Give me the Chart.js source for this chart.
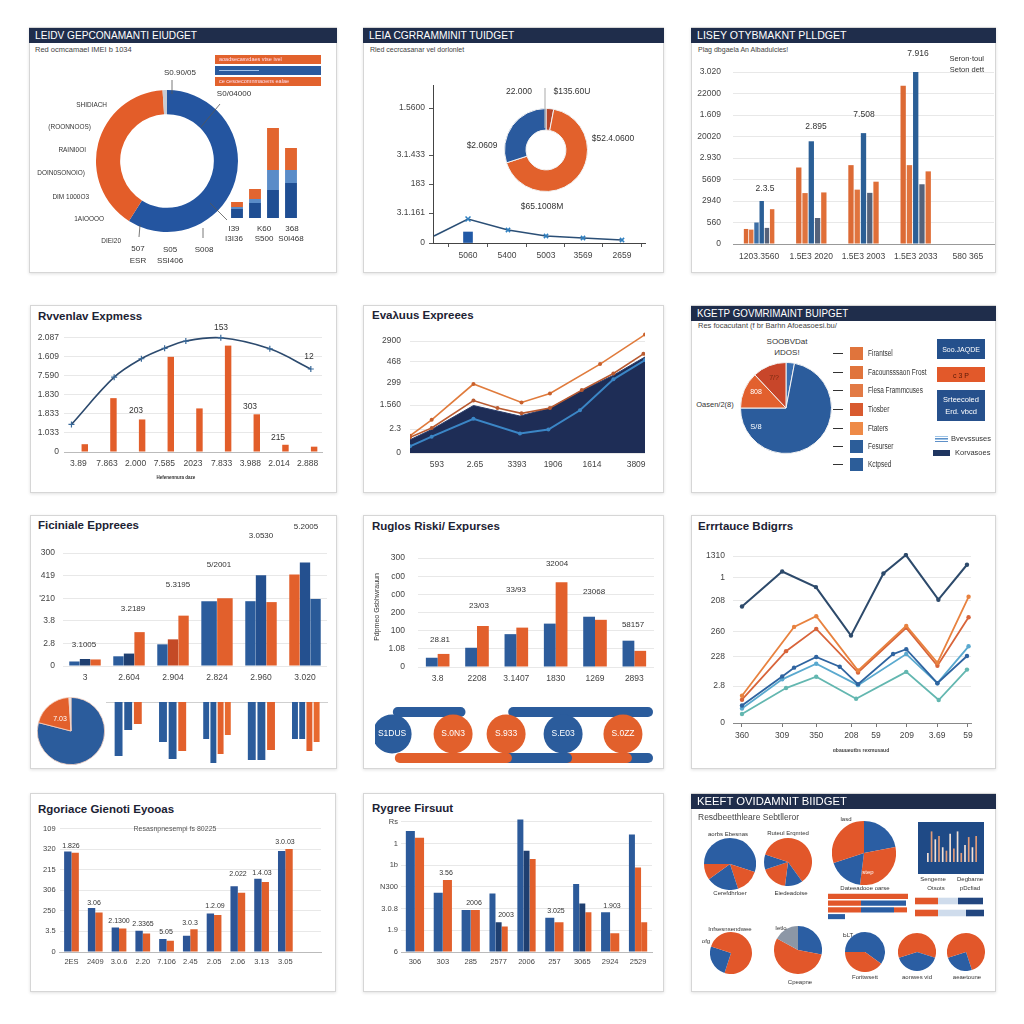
<!DOCTYPE html>
<html><head><meta charset="utf-8"><title>Government budget dashboard</title>
<script src="https://cdn.jsdelivr.net/npm/chart.js@4.4.1/dist/chart.umd.min.js"></script>
<style>
html,body{margin:0;padding:0;}
body{width:1024px;height:1024px;background:#fff;position:relative;overflow:hidden;font-family:"Liberation Sans",Arial,sans-serif;}
.pn{position:absolute;background:#fff;border:1px solid #d6d6d6;box-shadow:0 1px 3px rgba(0,0,0,.12);box-sizing:border-box;}
.tx{position:absolute;white-space:nowrap;line-height:1;}
canvas{position:absolute;}
</style></head>
<body>
<script>
// ================= DATA =================
// Panel 1
const p1Title='LEIDV GEPCONAMANTI EIUDGET';
const p1Sub='Red ocmcamael IMEI b 1034';
const p1DonutLabels=['Federal','State','Other'];
const p1Donut=[59,40,1];
const p1SideLabels=['SHIDIACH','(ROONNOOS)','RAINI0OI','DOIN0SONOIO)','DIM  1000O3','1AIOOOO','DIEI20'];
const p1Legend=['aoadsecasvdaes vtse ivel','','ce cesoecomnmaoens ealae'];
const p1BarCats=['I39','I3I36','K60','368'];
const p1BarNavy=[9,15,28,35];
const p1BarLight=[2,4,20,13];
const p1BarOrange=[5,10,42,22];
// Panel 2
const p2Title='LEIA CGRRAMMINIT TUIDGET';
const p2Sub='Rled cecrcasanar vel dorlonlet';
const p2YTickVals=[0,3.0,5.9,8.8,13.5];
const p2YTicks=['0','3.1.161','183','3.1.433','1.5600'];
const p2XTickVals=[3.5,7.4,11.3,15.0,18.9];
const p2XTicks=['5060','5400','5003','3569','2659'];
const p2LineX=[0.1,3.5,7.5,11.3,15.0,18.9];
const p2LineY=[0.7,2.4,1.3,0.7,0.5,0.3];
const p2BarX=[3.5];
const p2BarY=[1.1];
const p2DonutLabels=['Dark','Orange','Blue'];
const p2Donut=[3,67,30];
// Panel 3
const p3Title='LISEY OTYBMAKNT PLLDGET';
const p3Sub='Plag dbgaela An Albadulcies!';
const p3Cats=['1203.3560','1.5E3 2020','1.5E3 2003','1.5E3 2033','580 365'];
const p3YTicks=['0','560','2940','5609','2.930','20020','1.609','22000','3.020'];
const p3O1=[0.70,3.56,3.67,7.37,null];
const p3O2=[0.67,2.37,2.53,3.67,null];
const p3B1=[1.0,null,null,null,null];
const p3B2=[2.0,4.78,5.16,8.02,null];
const p3G=[0.75,1.21,2.38,2.78,null];
const p3O3=[1.62,2.40,2.90,3.38,null];
// Panel 4
const p4Title='Rvvenlav Expmess';
const p4Cats=['3.89','7.863','2.000','7.585','2023','7.833','3.988','2.014','2.888'];
const p4YTicks=['0','1.033','1.833','1.830','7.590','1.609','2.087'];
const p4Bars=[0.41,2.83,1.71,5.0,2.29,5.59,1.98,0.38,0.28];
const p4LineX=[-0.24,1.25,2.2,3.01,3.75,4.97,6.68,8.11];
const p4LineY=[1.45,3.93,4.90,5.45,5.83,6.0,5.42,4.36];
// Panel 5
const p5Title='Evaλuus Expreees';
const p5YTickVals=[0,1.07,2.14,3.16,4.10,5.0];
const p5YTicks=['0','2.3','1.560','299','468','2900'];
const p5XTickVals=[1.03,2.49,4.10,5.48,6.97,8.66];
const p5XTicks=['593','2.65','3393','1906','1614','3809'];
const p5AreaX=[0,0.83,2.43,4.21,5.36,6.58,7.79,9.0];
const p5AreaY=[0.59,1.05,2.12,1.65,2.01,2.79,3.47,4.29];
const p5BlueX=[0,0.83,2.43,4.21,5.30,6.51,7.79,9.0];
const p5BlueY=[0.30,0.73,1.53,0.87,1.05,1.91,3.29,4.15];
const p5LowX=[0,0.83,2.43,3.35,4.27,5.36,6.58,7.79,8.94];
const p5LowY=[0.70,1.12,2.34,2.01,1.77,2.01,2.81,3.55,4.43];
const p5UpX=[0,0.83,2.43,4.27,5.36,7.28,9.0];
const p5UpY=[0.77,1.48,3.08,2.26,2.66,3.97,5.29];
// Panel 6
const p6Title='KGETP GOVMRIMAINT BUIPGET';
const p6Sub='Res focacutant (f br Barhn Afoeasoesi.bu/';
const p6PieLabels=['Thin','Main','Orange','Red'];
const p6Pie=[3,72,13,12];
const p6Legend=['Firantsel','Facounsssaon Frost','Flesa Frammcuses','Tiosber','Ftaters','Fesurser','Kctpsed'];
// Panel 7
const p7Title='Ficiniale Eppreees';
const p7Cats=['3','2.604','2.904','2.824','2.960','3.020'];
const p7YTicks=['0','2.8','3.8',"'210",'419','300'];
const p7A=[0.20,0.43,0.96,2.87,2.87,4.05];
const p7B=[0.31,0.55,1.18,null,4.02,4.58];
const p7C=[0.29,1.50,2.23,3.00,2.83,2.97];
const p7Values=['3.1005','3.2189','5.3195','5/2001','3.0530','5.2005'];
const p7PieLabels=['Main','Slice','Line'];
const p7Pie=[79,20,1];
const p7DownCats=['a','b','c','d','e'];
const p7Down1=[5.4,4.0,3.7,5.8,3.7];
const p7Down2=[2.8,5.7,6.1,5.8,3.7];
const p7Down3=[2.2,4.9,5.2,4.8,4.9];
const p7Down4=[null,null,3.3,null,4.0];
// Panel 8
const p8Title='Ruglos Riski/ Expurses';
const p8Cats=['3.8','2208','3.1407','1830','1269','2893'];
const p8YTicks=['0','1.08','100','200','c00','c00','300'];
const p8Blue=[0.51,1.06,1.81,2.39,2.77,1.45];
const p8Orange=[0.72,2.26,2.17,4.67,2.60,0.89];
const p8Values=['28.81','23/03','33/93','32004','23068','58157'];
const p8ChainX=[0.6,2.74,4.6,6.6,8.7];
const p8ChainLabels=['S1DUS','S.0N3','S.933','S.E03','S.0ZZ'];
const p8BandFrom=[0.8,4.85,0.87,4.63,6.74,8.87];
const p8BandTo=[3.0,9.58,4.63,6.74,8.84,9.58];
const p8BandRow=[5.8,5.8,1.2,1.2,1.2,1.2];
// Panel 9
const p9Title='Errrtauce Bdigrrs';
const p9XTickVals=[0,1.25,2.31,3.40,4.17,5.13,6.07,7.03];
const p9XTicks=['360','309','350','208','59','209','3.69','59'];
const p9YTickVals=[0,3.8,6.8,9.4,12.6,15.0,17.2];
const p9YTicks=['0','2.8','228','260','208','1','1310'];
const p9NavyX=[0,1.25,2.30,3.39,4.40,5.10,6.11,7.0];
const p9NavyY=[12.0,15.6,14.0,9.0,15.4,17.3,12.7,16.3];
const p9OrAX=[0,1.62,2.31,3.61,5.11,6.08,7.05];
const p9OrAY=[2.8,9.9,11.0,5.4,10.0,6.2,13.0];
const p9OrBX=[0,1.37,2.31,3.61,5.11,6.08,7.05];
const p9OrBY=[2.4,7.4,9.7,5.2,9.8,5.9,10.9];
const p9BlCX=[0,1.25,1.62,2.31,3.04,3.61,4.70,5.11,6.08,7.0];
const p9BlCY=[1.8,4.8,5.7,6.8,5.8,4.0,7.1,7.6,4.1,6.9];
const p9BlDX=[0,1.25,2.31,3.61,5.11,6.08,7.05];
const p9BlDY=[1.5,4.5,6.1,3.9,7.1,4.1,7.9];
const p9TealX=[0,1.37,2.31,3.55,5.11,6.12,7.0];
const p9TealY=[0.93,3.6,4.77,2.5,5.27,2.37,5.5];
// Panel 10
const p10Title='Rgoriace Gienoti Eyooas';
const p10Sub='Resasnpnesempi fs 80225';
const p10Cats=['2ES','2409','3.0.6','2.20','7.106','2.45','2.05','2.06','3.13','3.05',''];
const p10YTicks=['0','3.5','250','306','215','320','109'];
const p10Blue=[4.88,2.14,1.19,1.03,0.63,0.79,1.87,3.19,3.56,4.91];
const p10Orange=[4.82,1.92,1.14,0.90,0.55,1.11,1.80,2.88,3.40,5.01];
const p10Values=['1.826','3.06','2.1300','2.3365','5.05','3.0.3','1.2.09','2.022','1.4.03','3.0.03'];
// Panel 11
const p11Title='Rygree Firsuut';
const p11Cats=['306','303','285','2577','2006','257','3065','2924','2529'];
const p11YTicks=['6','1.9','3.0.8','N300','1b','1','Rs'];
const p11A=[5.58,2.73,1.94,2.70,6.11,1.58,3.13,1.83,5.42];
const p11B=[5.27,3.32,1.94,1.37,4.67,1.37,2.24,0.86,3.90];
const p11C=[null,null,null,1.17,4.29,null,1.83,null,1.37];
// Panel 12
const p12Title='KEEFT OVIDAMNIT BIIDGET';
const p12Sub='Resdbeetthleare Sebtlleror';
const p12A=[30,15,20,10,25];
const p12B=[40,12,18,10,20];
const p12C=[22,30,18,30];
const p12D=[55,25,20];
const p12E=[28,55,17];
const p12F=[35,40,25];
const p12G=[30,40,30];
const p12H=[45,25,30];
const p12Mini=[8,27,20,23,13,10,25,12,27,8,15,22,13,23];
const p12HRows=['r1','r2','r3','r4'];
const p12H1=[80,33,33,17];
const p12H2=[0,45,33,0];
const p12H3=[0,0,13,0];
const p12RRows=['s1','s2'];
const p12R1=[23,23];
const p12R2=[20,28];
const p12R3=[25,18];

// ================= STYLE / HELPERS =================
const O='#e2602c', OD='#c44a26', B='#2b5c9c', BL='#4f82c0', NV='#1f3f70';
Chart.defaults.font.family="'Liberation Sans', Arial, sans-serif";
Chart.defaults.font.size=8.5;
Chart.defaults.color='#444';
Chart.defaults.animation=false;
Chart.defaults.responsive=false;
Chart.defaults.layout.autoPadding=false;
Chart.defaults.plugins.legend.display=false;
Chart.defaults.plugins.tooltip.enabled=false;
Chart.defaults.events=[];

function el(tag,cls,st){const d=document.createElement(tag); if(cls)d.className=cls; Object.assign(d.style,st||{}); document.body.appendChild(d); return d;}
function px(v){return v+'px';}
function T(x,y,s,o){o=o||{}; const d=el('div','tx'); d.textContent=s; const a=o.a||'l';
  const tx=a==='c'?'-50%':a==='r'?'-100%':'0';
  d.style.left=px(x); d.style.top=px(y); d.style.fontSize=px(o.s||8); d.style.color=o.c||'#333';
  if(o.b)d.style.fontWeight='bold';
  let tr='translate('+tx+',-50%)'; if(o.sx)tr+=' scaleX('+o.sx+')'; if(o.r)tr+=' rotate('+o.r+'deg)';
  d.style.transform=tr; d.style.transformOrigin=a==='c'?'50% 50%':a==='r'?'100% 50%':'0 50%'; return d;}
function R(x,y,w,h,bg,ex){return el('div','',Object.assign({position:'absolute',left:px(x),top:px(y),width:px(w),height:px(h),background:bg},ex||{}));}
function Pn(x,y,w,h){el('div','pn',{left:px(x),top:px(y),width:px(w),height:px(h)});}
function Hd(x,y,w,h,s,sx){R(x,y,w,h,'#1f2d4b'); T(x+6,y+h/2+0.5,s,{s:11.5,c:'#fff',sx:sx||0.85});}
function C(x,y,w,h,bg){const c=el('canvas','',{position:'absolute',left:px(x),top:px(y),width:px(w),height:px(h)}); c.width=w; c.height=h; if(bg)c.style.background=bg; return c;}
function L(box,area){return {padding:{left:0,top:area[1]-box[1],right:box[0]+box[2]-area[2],bottom:0}, yw:area[0]-box[0], xh:box[1]+box[3]-area[3]};}
function yAx(f,vals,labels,o){o=o||{}; return {min:0, max:o.max, afterFit:s=>{s.width=f.yw;},
  afterBuildTicks:s=>{s.ticks=vals.map(v=>({value:v}));},
  ticks:{callback:(v,i)=>labels[i], padding:(o.pad!==undefined?o.pad:4), autoSkip:false, font:{size:o.fs||8.5}},
  grid:o.grid||{color:'#e8e8e8', drawTicks:false}, border:o.border||{display:false}};}
function xCat(f,o){o=o||{}; return {afterFit:s=>{s.height=f.xh;}, ticks:{padding:(o.pad!==undefined?o.pad:7), autoSkip:false, maxRotation:0, minRotation:0, font:{size:o.fs||8.5}},
  grid:{display:false, drawTicks:false}, border:{display:o.border!==false, color:o.bc||'#aaa'}};}
function xLin(f,min,max,vals,labels,o){o=o||{}; return {type:'linear', offset:false, min:min, max:max, afterFit:s=>{s.height=f.xh;},
  afterBuildTicks:s=>{s.ticks=vals.map(v=>({value:v}));},
  ticks:{callback:(v,i)=>labels[i], padding:(o.pad!==undefined?o.pad:7), autoSkip:false, maxRotation:0, font:{size:o.fs||8.5}},
  grid:o.grid||{display:false, drawTicks:false}, border:o.border||{display:false}};}
function xy(xs,ys){return xs.map((x,i)=>({x:x,y:ys[i]}));}
function pie(cx,cy,r,labels,data,colors,o){o=o||{}; const opt={layout:{padding:0}}; if(o.cutout)opt.cutout=o.cutout;
  new Chart(C(cx-r,cy-r,2*r,2*r),{type:o.type||'pie',data:{labels:labels,datasets:[{data:data,backgroundColor:colors,borderWidth:o.bw||0,borderColor:o.bc||'#fff'}]},options:opt});}
function idx(a){return a.map((_,i)=>'s'+i);}

// ================= PANEL 1 =================
Pn(29,27,308,246); Hd(29,28,308,15,p1Title,0.88);
T(35,50,p1Sub,{s:7.5,c:'#444'});
pie(167,161,71,p1DonutLabels,p1Donut,['#2455a0','#e35d29','#c8ccd4'],{type:'doughnut',cutout:'66%'});
[[107,105],[91,127],[86,150],[85,173],[89,197],[104,219],[121,241]].forEach((p,i)=>T(p[0],p[1],p1SideLabels[i],{a:'r',s:7.5,sx:0.86}));
T(138,249,'507',{a:'c',s:8}); T(138,261,'ESR',{a:'c',s:8});
T(170,250,'S05',{a:'c',s:8}); T(170,261,'SSI406',{a:'c',s:8});
T(204,250,'S008',{a:'c',s:8});
T(180,73,'S0.90/05',{a:'c',s:8}); T(234,94,'S0/04000',{a:'c',s:8});
R(215,55,106,9,'#e2622d'); R(215,66,106,9,'#2a5a9e'); R(215,77,106,9,'#e2622d');
T(219,59.5,p1Legend[0],{s:5.5,c:'#fde'}); R(219,70,40,1,'#9fc0e8'); T(219,81.5,p1Legend[2],{s:5.5,c:'#fde'});
new Chart(C(222,110,86,110),{type:'bar',data:{labels:p1BarCats,datasets:[
  {data:p1BarNavy,backgroundColor:'#1f4e93'},{data:p1BarLight,backgroundColor:'#5a8cc8'},{data:p1BarOrange,backgroundColor:'#e2652f'}]},
  options:{layout:{padding:{left:6,right:8,top:8,bottom:2}},datasets:{bar:{barPercentage:0.66,categoryPercentage:1}},
  scales:{x:{display:false,stacked:true},y:{display:false,stacked:true,min:0,max:100}}}});
T(234,229,'I39',{a:'c',s:8}); T(234,239,'I3I36',{a:'c',s:8});
T(264,229,'K60',{a:'c',s:8}); T(264,239,'S500',{a:'c',s:8});
T(292,229,'368',{a:'c',s:8}); T(291,239,'S0I468',{a:'c',s:8});

// ================= PANEL 2 =================
Pn(363,27,301,246); Hd(363,28,301,15,p2Title,0.89);
T(370,49,p2Sub,{s:7,c:'#444'});
(function(){const box=[395,76,262,194], f=L(box,[433,85,645,243]);
 const axGrid={display:true,drawOnChartArea:false,drawTicks:true,tickLength:4,color:'#555'};
 const axBorder={display:true,color:'#444',width:1};
 new Chart(C.apply(null,box),{type:'line',data:{datasets:[
  {type:'line',data:xy(p2LineX,p2LineY),borderColor:'#2b4f76',borderWidth:1.6,tension:0,pointStyle:'crossRot',pointRadius:[0,3.5,3,3,3,3],pointBorderColor:'#2f7fbf',pointBorderWidth:1.5},
  {type:'bar',data:xy(p2BarX,p2BarY),backgroundColor:'#2159a6',barThickness:9}]},
  options:{layout:{padding:f.padding},scales:{
   x:xLin(f,0,21.2,p2XTickVals,p2XTicks,{pad:4,grid:axGrid,border:axBorder}),
   y:yAx(f,p2YTickVals,p2YTicks,{max:15.8,pad:4,grid:axGrid,border:axBorder})}}});
})();
pie(546,150,42,p2DonutLabels,p2Donut,['#b5452a','#e2612c','#2a5a9e'],{type:'doughnut',cutout:'48%',bw:1,bc:'#f2f2f2'});
T(519,91,'22.000',{a:'c',s:8.5}); T(572,91,'$135.60U',{a:'c',s:8.5});
T(613,138,'$52.4.0600',{a:'c',s:8.5}); T(482,145,'$2.0609',{a:'c',s:8.5}); T(542,206,'$65.1008M',{a:'c',s:8.5});

// ================= PANEL 3 =================
Pn(691,27,305,246); Hd(691,28,305,15,p3Title,0.92);
T(698,49,p3Sub,{s:7,c:'#444'});
(function(){const box=[693,55,303,215], f=L(box,[733,65,994,244]);
 const cols=['#dc6a35','#e0743f','#3d6fa6','#2b5f96','#55627a','#e06f38'];
 new Chart(C.apply(null,box),{type:'bar',data:{labels:p3Cats,datasets:[p3O1,p3O2,p3B1,p3B2,p3G,p3O3].map((d,i)=>({data:d,backgroundColor:cols[i],skipNull:true,categoryPercentage:0.6,barPercentage:0.85}))},
  options:{layout:{padding:f.padding},scales:{x:xCat(f,{pad:8,bc:'#999'}),y:yAx(f,[0,1,2,3,4,5,6,7,8],p3YTicks,{max:8,pad:12})}}});
})();
T(765,188,'2.3.5',{a:'c',s:8.5}); T(816,126,'2.895',{a:'c',s:8.5}); T(864,114,'7.508',{a:'c',s:8.5}); T(918,53,'7.916',{a:'c',s:8.5});
T(984,59,'Seron·toul',{a:'r',s:7.5}); T(984,70,'Seton dett',{a:'r',s:7.5});

// ================= PANEL 4 =================
Pn(30,305,307,188);
T(38,317,p4Title,{s:11.5,b:true,c:'#1c2233'});
(function(){const box=[31,322,296,154], f=L(box,[64,330,322,452]);
 new Chart(C.apply(null,box),{type:'bar',data:{labels:p4Cats,datasets:[
  {type:'line',xAxisID:'x2',data:xy(p4LineX,p4LineY),borderColor:'#2c4a6e',borderWidth:1.6,tension:0.35,pointStyle:'cross',pointRadius:3,pointBorderColor:'#3a6a9a',pointBorderWidth:1.2},
  {data:p4Bars,backgroundColor:'#e25e2a',barPercentage:0.5,categoryPercentage:0.9}]},
  options:{layout:{padding:f.padding},scales:{x:xCat(f,{pad:7,bc:'#bbb'}),x2:{type:'linear',display:false,offset:false,min:-0.5,max:8.5},
   y:yAx(f,[0,1,2,3,4,5,6],p4YTicks,{max:6.3,pad:5})}}});
})();
T(221,327,'153',{a:'c',s:8.5}); T(136,410,'203',{a:'c',s:8.5}); T(250,406,'303',{a:'c',s:8.5}); T(278,437,'215',{a:'c',s:8.5}); T(309,356,'12',{a:'c',s:8.5});
T(176,478,'Hefenennura daze',{a:'c',s:4.5,c:'#333',b:true});

// ================= PANEL 5 =================
Pn(363,305,301,188);
T(372,316,p5Title,{s:11.5,b:true,c:'#1c2233'});
(function(){const box=[365,318,295,158], f=L(box,[410,326.6,645,453]);
 new Chart(C.apply(null,box),{type:'line',data:{datasets:[
  {data:xy(p5UpX,p5UpY),borderColor:'#e07b3c',borderWidth:1.6,pointRadius:2,pointBackgroundColor:'#c8602c',pointBorderWidth:0,tension:0},
  {data:xy(p5LowX,p5LowY),borderColor:'#b95a30',borderWidth:1.6,pointRadius:2,pointBackgroundColor:'#b95a30',pointBorderWidth:0,tension:0},
  {data:xy(p5BlueX,p5BlueY),borderColor:'#3b86c6',borderWidth:2,pointRadius:2,pointBackgroundColor:'#3b86c6',pointBorderWidth:0,tension:0},
  {data:xy(p5AreaX,p5AreaY),borderColor:'#2b3d6b',borderWidth:1,backgroundColor:'#1e2d56',fill:'origin',pointRadius:0,tension:0}]},
  options:{layout:{padding:f.padding},scales:{x:xLin(f,0,9,p5XTickVals,p5XTicks,{pad:7}),
   y:yAx(f,p5YTickVals,p5YTicks,{max:5.4,pad:9})}}});
})();

// ================= PANEL 6 =================
Pn(691,305,305,188); Hd(691,306,305,15,p6Title,0.85);
T(698,326,p6Sub,{s:7.5,c:'#444'});
pie(786,408,46,p6PieLabels,p6Pie,['#3a6fb0','#2b5c9c','#e2602e','#c8462a'],{bw:1,bc:'#f3f3f3'});
T(787,342,'SOOBVDat',{a:'c',s:8}); T(787,353,'ИDOS!',{a:'c',s:8});
T(715,405,'Oasen/2(8)',{a:'c',s:7.5});
T(756,427,'S/8',{a:'c',s:7.5,c:'#fff'}); T(756,391,'808',{a:'c',s:7,c:'#fff'}); T(774,377,'7/?',{a:'c',s:7,c:'#7a2a10'});
(function(){const rows=[353,372,390,409,428,446,464]; const cols=['#e0743c','#e0743c','#e27a45','#d85a2f','#ee8a47','#2c5d99','#2c5d99'];
 rows.forEach((y,i)=>{R(833,y,10,1,'#333'); R(850,y-6.5,13,13,cols[i]); T(868,y,p6Legend[i],{s:8.5,c:'#333',sx:0.76});});})();
R(937,339,48,20,'#24508c'); T(961,349,'Soo.JAQDE',{a:'c',s:7,c:'#fff'});
R(937,367,48,15,'#e2592a'); T(961,374.5,'c 3 P',{a:'c',s:7,c:'#5a1a08'});
R(937,390,48,31,'#26508c'); T(961,400,'Srteecoled',{a:'c',s:7.5,c:'#fff'}); T(961,412,'Erd. vbcd',{a:'c',s:7.5,c:'#fff'});
R(935,436,13,6,'repeating-linear-gradient(#9cc3e6 0 1px,#fff 1px 2px,#5f90c8 2px 3px)');
T(951,439,'Bvevssuses',{s:7.5,c:'#333'});
R(933,450,17,6,'#1f3560'); T(955,453,'Korvasoes',{s:7.5,c:'#333'});

// ================= PANEL 7 =================
Pn(30,515,307,254);
T(38,526,p7Title,{s:11.5,b:true,c:'#1c2233'});
(function(){const box=[31,540,300,150], f=L(box,[63,550,327,666]);
 const c2=NV;
 new Chart(C.apply(null,box),{type:'bar',data:{labels:p7Cats,datasets:[
  {data:p7A,backgroundColor:[B,B,B,B,B,O],skipNull:true},
  {data:p7B,backgroundColor:[c2,c2,OD,B,'#24508f','#24508f'],skipNull:true},
  {data:p7C,backgroundColor:[O,O,O,O,O,'#2a5a98'],skipNull:true}]},
  options:{layout:{padding:f.padding},datasets:{bar:{categoryPercentage:0.72,barPercentage:0.98}},
   scales:{x:xCat(f,{pad:7,border:false}),y:yAx(f,[0,1,2,3,4,5],p7YTicks,{max:5,pad:8})}}});
})();
[[84,645],[133,609],[178,585],[219,565],[261,536],[306,527]].forEach((p,i)=>T(p[0],p[1],p7Values[i],{a:'c',s:8}));
pie(71,731,34,p7PieLabels,p7Pie,['#2b5c9c','#e2602c','#dfe6ee'],{bw:0.8,bc:'#f5d0c0'});
T(60,718,'7.03',{a:'c',s:7,c:'#fff'});
(function(){new Chart(C(106,700,222,70),{type:'bar',data:{labels:p7DownCats,datasets:[
  {data:p7Down1,backgroundColor:'#2b5c9c',skipNull:true},{data:p7Down2,backgroundColor:'#2a5a98',skipNull:true},
  {data:p7Down3,backgroundColor:O,skipNull:true},{data:p7Down4,backgroundColor:'#e86a30',skipNull:true}]},
  options:{layout:{padding:{left:0,right:0,top:0,bottom:1}},datasets:{bar:{categoryPercentage:0.65,barPercentage:0.82}},
   scales:{x:{position:'top',afterFit:s=>{s.height=2;},ticks:{display:false},grid:{display:false,drawTicks:false},border:{display:true,color:'#cfcfcf'}},
   y:{display:false,reverse:true,min:0,max:6.7}}}});})();

// ================= PANEL 8 =================
Pn(363,515,301,254);
T(372,527,p8Title,{s:11.5,b:true,c:'#1c2233'});
(function(){const box=[380,540,280,150], f=L(box,[418,550,654,667]);
 new Chart(C.apply(null,box),{type:'bar',data:{labels:p8Cats,datasets:[
  {data:p8Blue,backgroundColor:'#2d5c9b'},{data:p8Orange,backgroundColor:O}]},
  options:{layout:{padding:f.padding},datasets:{bar:{categoryPercentage:0.6,barPercentage:1}},
   scales:{x:xCat(f,{pad:7,border:false}),y:yAx(f,[0,1,2,3,4,5,6],p8YTicks,{max:6,pad:13})}}});
})();
T(376,607,'Pdpmeo Gsbhwrauun',{a:'c',s:7,r:-90});
[[440,640],[479,606],[516,590],[557,564],[594,592],[633,625]].forEach((p,i)=>T(p[0],p[1],p8Values[i],{a:'c',s:8}));
(function(){
 const chainLabels={id:'chainLabels',afterDatasetsDraw(chart){const ctx=chart.ctx; const meta=chart.getDatasetMeta(0); ctx.save(); ctx.fillStyle='#fff'; ctx.font="8.5px 'Liberation Sans', Arial"; ctx.textAlign='center'; ctx.textBaseline='middle'; meta.data.forEach((e,i)=>ctx.fillText(p8ChainLabels[i],e.x,e.y)); ctx.restore();}};
 const circleCols=['#2b5c9c',O,O,'#2b5c9c',O]; const bandCols=['#2b5c9c','#2b5c9c',O,'#2b5c9c',O,'#2b5c9c'];
 const ds=[{type:'bubble',data:p8ChainX.map(x=>({x:x,y:3.6,r:19.5})),backgroundColor:circleCols,borderWidth:0}];
 p8BandFrom.forEach((a,i)=>ds.push({type:'line',data:[{x:a,y:p8BandRow[i]},{x:p8BandTo[i],y:p8BandRow[i]}],borderColor:bandCols[i],borderWidth:10,borderCapStyle:'round',pointRadius:0,fill:false}));
 new Chart(C(375,700,285,70),{type:'bubble',data:{datasets:ds},plugins:[chainLabels],
  options:{layout:{padding:0,autoPadding:false},scales:{x:{type:'linear',display:false,offset:false,min:0,max:10},y:{type:'linear',display:false,min:0,max:7}}}});
})();

// ================= PANEL 9 =================
Pn(691,515,305,254);
T(698,527,p9Title,{s:11.5,b:true,c:'#1c2233'});
(function(){const box=[695,540,298,216], f=L(box,[733,548,971,723]);
 function ln(xs,ys,c,w){return {data:xy(xs,ys),borderColor:c,borderWidth:w||1.8,pointRadius:2.2,pointBackgroundColor:c,pointBorderWidth:0,tension:0};}
 new Chart(C.apply(null,box),{type:'line',data:{datasets:[
  ln(p9NavyX,p9NavyY,'#2d4a6b',2),ln(p9OrAX,p9OrAY,'#e8823f'),ln(p9OrBX,p9OrBY,'#d8643a'),
  ln(p9BlCX,p9BlCY,'#2f64a0'),ln(p9BlDX,p9BlDY,'#5aa9cf'),ln(p9TealX,p9TealY,'#63b7b0')]},
  options:{layout:{padding:f.padding},scales:{
   x:xLin(f,-0.28,7.125,p9XTickVals,p9XTicks,{pad:4,grid:{display:true,drawOnChartArea:false,drawTicks:true,tickLength:4,color:'#777'},border:{display:true,color:'#888'}}),
   y:yAx(f,p9YTickVals,p9YTicks,{max:17.5,pad:8})}}});
})();
T(861,750,'ɑbauueutbs rexmusaud',{a:'c',s:5,b:true,c:'#444'});

// ================= PANEL 10 =================
Pn(30,793,306,199);
T(38,810,p10Title,{s:11.5,b:true,c:'#1c2233'});
(function(){const box=[31,820,298,155], f=L(box,[59.6,828,321,952]);
 new Chart(C.apply(null,box),{type:'bar',data:{labels:p10Cats,datasets:[
  {data:p10Blue,backgroundColor:'#2c5596'},{data:p10Orange,backgroundColor:'#e0602c'}]},
  options:{layout:{padding:f.padding},datasets:{bar:{categoryPercentage:0.62,barPercentage:1}},
   scales:{x:xCat(f,{pad:5,fs:7.5,bc:'#bbb'}),y:yAx(f,[0,1,2,3,4,5,6],p10YTicks,{max:6,pad:4,fs:7.5})}}});
})();
T(175,828,p10Sub,{a:'c',s:7,c:'#555',bg:'#fff'});
[[71,845],[94,902],[119,920],[143,923],[166,931],[190,922],[215,905],[238,873],[262,872],[285,841]].forEach((p,i)=>T(p[0],p[1],p10Values[i],{a:'c',s:7}));

// ================= PANEL 11 =================
Pn(363,793,301,199);
T(372,809,p11Title,{s:11.5,b:true,c:'#1c2233'});
(function(){const box=[368,809,292,165], f=L(box,[401,817.5,652,952]);
 new Chart(C.apply(null,box),{type:'bar',data:{labels:p11Cats,datasets:[
  {data:p11A,backgroundColor:'#2c5a9a',skipNull:true},
  {data:p11B,backgroundColor:[O,O,O,NV,NV,O,NV,O,O],skipNull:true},
  {data:p11C,backgroundColor:O,skipNull:true}]},
  options:{layout:{padding:f.padding},datasets:{bar:{categoryPercentage:0.66,barPercentage:0.98}},
   scales:{x:xCat(f,{pad:5,fs:7.5,bc:'#bbb'}),y:yAx(f,[0,1,2,3,4,5,6],p11YTicks,{max:6.2,pad:3,fs:7.5})}}});
})();
T(446,872,'3.56',{a:'c',s:7}); T(474,902,'2006',{a:'c',s:7}); T(506,914,'2003',{a:'c',s:7}); T(556,910,'3.025',{a:'c',s:7}); T(612,905,'1.903',{a:'c',s:7});

// ================= PANEL 12 =================
Pn(691,793,305,199); Hd(691,794,305,15,p12Title,0.98);
T(698,817,p12Sub,{s:8.5,c:'#444'});
const PB='#2b5ea3', PO='#e2572a';
pie(730,864,26,idx(p12A),p12A,[PB,PO,PB,PO,PB]);
pie(788,862,24,idx(p12B),p12B,[PO,PB,PO,PB,PO]);
pie(864,853,32,idx(p12C),p12C,[PB,PO,PB,PO]);
pie(731,953,21,idx(p12D),p12D,[PO,PB,PO]);
pie(798,950,24,idx(p12E),p12E,[PB,PO,'#8c97a6']);
pie(865,952,20,idx(p12F),p12F,[PB,PO,PB]);
pie(917,952,19,idx(p12G),p12G,[PO,PB,PO]);
pie(966,952,19,idx(p12H),p12H,[PO,PB,PO]);
new Chart(C(918,822,66,52,'#1f4a86'),{type:'bar',data:{labels:idx(p12Mini),datasets:[{data:p12Mini,backgroundColor:p12Mini.map((_,i)=>i%2?'#e39b77':'#f3e1d6')}]},
 options:{layout:{padding:{left:8,right:6,top:6,bottom:12}},datasets:{bar:{barPercentage:0.45,categoryPercentage:1}},scales:{x:{display:false},y:{display:false,min:0,max:30}}}});
new Chart(C(826,893,84,27),{type:'bar',data:{labels:p12HRows,datasets:[
 {data:p12H1,backgroundColor:[PO,PO,PO,PB]},{data:p12H2,backgroundColor:PB},{data:p12H3,backgroundColor:PO}]},
 options:{indexAxis:'y',layout:{padding:{left:2,right:2,top:0,bottom:0}},datasets:{bar:{barPercentage:0.75,categoryPercentage:1}},
 scales:{x:{display:false,stacked:true,min:0,max:80},y:{display:false,stacked:true}}}});
new Chart(C(913,895,75,24),{type:'bar',data:{labels:p12RRows,datasets:[
 {data:p12R1,backgroundColor:PO},{data:p12R2,backgroundColor:'#cfdcec'},{data:p12R3,backgroundColor:'#22467f'}]},
 options:{indexAxis:'y',layout:{padding:{left:2,right:2,top:0,bottom:0}},datasets:{bar:{barPercentage:0.55,categoryPercentage:1}},
 scales:{x:{display:false,stacked:true,min:0,max:71},y:{display:false,stacked:true}}}});
[[728,834,'aorbs Ebesnas'],[788,833,'Ruteul Erqmted'],[730,893,'Cerefdhrloer'],[791,893,'Eiedeadoise'],[846,819,'lasd'],[865,888,'Dateeadooe oarse'],
 [933,879,'Sengeme'],[970,879,'Degbame'],[936,888,'Otsots'],[970,888,'pDcfiad'],[730,929,'Infsesnsendwee'],[706,941,'ofg'],[781,928,'Ietlo'],
 [800,982,'Cpeapne'],[848,935,'ЬLT'],[865,977,'Foritwsett'],[917,977,'aonwes vid'],[967,977,'aeaetoune']].forEach(a=>T(a[0],a[1],a[2],{a:'c',s:6,c:'#333'}));
T(868,872,'step',{a:'c',s:6,c:'#fff'});

// ================= leader lines =================
(function(){const ns='http://www.w3.org/2000/svg'; const s=document.createElementNS(ns,'svg');
 s.setAttribute('width','1024'); s.setAttribute('height','1024'); s.style.position='absolute'; s.style.left='0'; s.style.top='0';
 s.innerHTML='<g stroke="#555" stroke-width="0.8" fill="none">'+
  '<line x1="172" y1="80" x2="172" y2="94"/><line x1="220" y1="104" x2="201" y2="127"/>'+
  '<line x1="227" y1="220" x2="210" y2="203"/><line x1="140" y1="225" x2="139" y2="237"/><line x1="203" y1="228" x2="203" y2="238"/></g>'+
  '<line x1="545" y1="88" x2="545" y2="128" stroke="#b8b8b8" stroke-width="1.2"/>';
 document.body.appendChild(s);})();
</script>
</body></html>
